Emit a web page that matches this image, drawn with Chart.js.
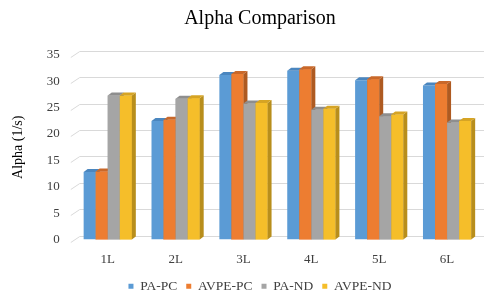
<!DOCTYPE html>
<html>
<head>
<meta charset="utf-8">
<script src="https://cdn.jsdelivr.net/npm/chart.js@4.4.1/dist/chart.umd.min.js"></script>
<style>
  html, body { margin: 0; padding: 0; background: #fff; overflow: hidden; }
  #wrap { width: 484px; height: 294px; overflow: hidden; }
</style>
</head>
<body>
<div id="wrap"><canvas id="alphaChart" width="514" height="303"></canvas></div>
<script>
// data
const categories = ['1L', '2L', '3L', '4L', '5L', '6L'];
const paPC   = [12.8, 22.5, 31.2, 32.0, 30.2, 29.2];
const avpePC = [12.9, 22.7, 31.4, 32.3, 30.4, 29.5];
const paND   = [27.3, 26.7, 25.8, 24.6, 23.4, 22.2];
const avpeND = [27.3, 26.8, 25.9, 24.8, 23.7, 22.5];
const seriesNames = ['PA-PC', 'AVPE-PC', 'PA-ND', 'AVPE-ND'];

const frontColors = ['#5B9BD5', '#ED7D31', '#A5A5A5', '#F5BE2A'];
const sideColors  = ['#41719C', '#AE5A21', '#7C7C7C', '#B88E1C'];
const topColors   = ['#4A86BF', '#C9682A', '#8E8E8E', '#D6A424'];

// fake 3d: back wall grid + side/top faces on the bars
const pseudo3d = {
    id: 'pseudo3d',
    beforeDatasetsDraw(chart) {
        const ctx = chart.ctx;
        const y = chart.scales.y;
        const area = chart.chartArea;
        const gx = 6, gy = 4;
        ctx.save();
        ctx.strokeStyle = '#d9d9d9';
        ctx.lineWidth = 1;
        y.ticks.forEach(t => {
            const py = Math.round(y.getPixelForValue(t.value)) + 0.5;
            ctx.beginPath();
            ctx.moveTo(area.left - 3, py + 2);
            ctx.lineTo(area.left + gx, py - gy);
            ctx.lineTo(chart.width, py - gy);
            ctx.stroke();
        });
        ctx.restore();
    },
    afterDatasetsDraw(chart) {
        const ctx = chart.ctx;
        const d = 4, dy = 3;
        const n = chart.data.datasets.length;
        ctx.save();
        categories.forEach((c, j) => {
            for (let i = 0; i < n; i++) {
                const bar = chart.getDatasetMeta(i).data[j];
                const p = bar.getProps(['x', 'y', 'base', 'width'], true);
                const l = p.x - p.width / 2, r = p.x + p.width / 2;
                // side
                ctx.fillStyle = sideColors[i];
                ctx.beginPath();
                ctx.moveTo(r, p.y);
                ctx.lineTo(r + d, p.y - dy);
                ctx.lineTo(r + d, p.base - dy);
                ctx.lineTo(r, p.base);
                ctx.closePath();
                ctx.fill();
                // top
                ctx.fillStyle = topColors[i];
                ctx.beginPath();
                ctx.moveTo(l, p.y);
                ctx.lineTo(l + d, p.y - dy);
                ctx.lineTo(r + d, p.y - dy);
                ctx.lineTo(r, p.y);
                ctx.closePath();
                ctx.fill();
                // next bar's front goes over this side
                if (i < n - 1) {
                    const nb = chart.getDatasetMeta(i + 1).data[j];
                    const q = nb.getProps(['x', 'y', 'base', 'width'], true);
                    ctx.fillStyle = frontColors[i + 1];
                    ctx.fillRect(q.x - q.width / 2, q.y, q.width, q.base - q.y);
                }
            }
        });
        ctx.restore();
    }
};

const serif = "'Liberation Serif', 'Times New Roman', serif";
Chart.defaults.font.family = serif;
Chart.defaults.color = '#404040';

const ctx1 = document.getElementById('alphaChart').getContext('2d');
new Chart(ctx1, {
    type: 'bar',
    data: {
        labels: categories,
        datasets: [paPC, avpePC, paND, avpeND].map((vals, i) => ({
            label: seriesNames[i],
            data: vals,
            backgroundColor: frontColors[i],
            borderWidth: 0,
            categoryPercentage: 0.71,
            barPercentage: 1.0
        }))
    },
    options: {
        responsive: false,
        animation: false,
        layout: { padding: { left: 6, right: 0, top: 0, bottom: 0 } },
        scales: {
            y: {
                min: 0,
                max: 35,
                ticks: { stepSize: 5, font: { size: 13 }, color: '#404040', padding: 14 },
                grid: { display: false, drawTicks: false },
                border: { display: false },
                title: { display: true, text: 'Alpha (1/s)', font: { size: 14 }, color: '#000', padding: { bottom: 6 } }
            },
            // empty right box, only keeps room for the cropped right margin
            yRight: {
                position: 'right',
                ticks: { display: false },
                grid: { display: false, drawTicks: false },
                border: { display: false },
                afterFit: s => { s.width = 33; }
            },
            x: {
                ticks: { font: { size: 13 }, color: '#404040', padding: 12 },
                grid: { display: false, drawTicks: false },
                border: { display: false },
                afterFit: s => { s.height = 31; }
            }
        },
        plugins: {
            title: {
                display: true,
                text: 'Alpha Comparison',
                font: { size: 20, weight: 'normal' },
                color: '#000',
                padding: { top: 7, bottom: 24 }
            },
            legend: {
                position: 'bottom',
                labels: { boxWidth: 5, boxHeight: 5, font: { size: 13.5 }, color: '#404040', padding: 9 }
            },
            tooltip: { enabled: false }
        }
    },
    plugins: [pseudo3d]
});
</script>
</body>
</html>
